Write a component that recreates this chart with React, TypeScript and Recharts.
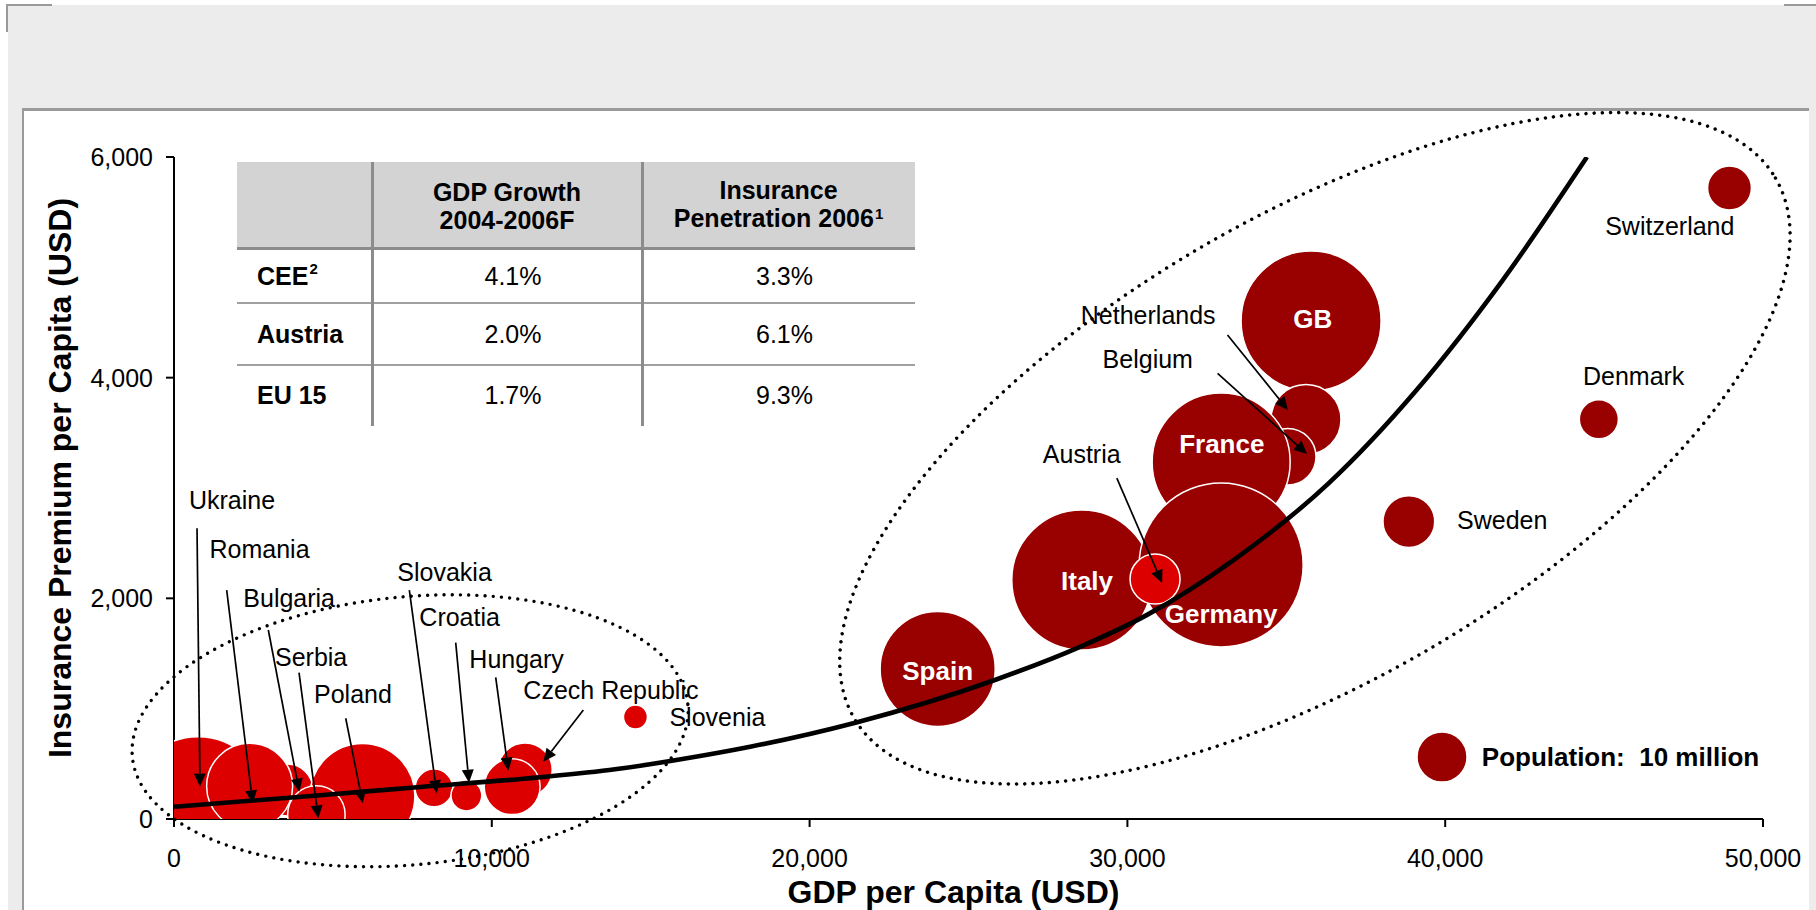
import React from 'react';
import {
  ComposedChart,
  Scatter,
  Line,
  XAxis,
  YAxis,
  ZAxis,
  ReferenceDot,
  ReferenceLine,
  Label,
} from 'recharts';

const W = 1816;
const H = 910;
const FONT = '"Liberation Sans", Arial, Helvetica, sans-serif';
const DARK_RED = '#990000';
const BRIGHT_RED = '#dc0000';

// GDP per capita (USD), premium per capita (USD), population (million)
const ceeCountries = [
  { name: 'Ukraine', x: 760, y: 130, pop: 74 },
  { name: 'Bulgaria', x: 3560, y: 263, pop: 10.8 },
  { name: 'Romania', x: 2380, y: 296, pop: 29.6 },
  { name: 'Poland', x: 5930, y: 210, pop: 44 },
  { name: 'Serbia', x: 4480, y: 40, pop: 13.2 },
  { name: 'Slovakia', x: 8180, y: 281, pop: 5.7 },
  { name: 'Croatia', x: 9200, y: 213, pop: 3.8 },
  { name: 'Czech Republic', x: 11050, y: 444, pop: 11.7 },
  { name: 'Hungary', x: 10640, y: 293, pop: 12.5 },
  { name: 'Slovenia', x: 14520, y: 924, pop: 2.3 },
];

const euCountries = [
  { name: 'Spain', x: 24030, y: 1360, pop: 53 },
  { name: 'GB', x: 35780, y: 4513, pop: 78.4 },
  { name: 'Netherlands', x: 35620, y: 3620, pop: 19.6 },
  { name: 'Belgium', x: 35045, y: 3284, pop: 12.8 },
  { name: 'France', x: 32950, y: 3236, pop: 76.2 },
  { name: 'Italy', x: 28565, y: 2166, pop: 78.4 },
  { name: 'Germany', x: 32950, y: 2302, pop: 107.6 },
  { name: 'Sweden', x: 38856, y: 2696, pop: 10.7 },
  { name: 'Denmark', x: 44835, y: 3623, pop: 6.1 },
  { name: 'Switzerland', x: 48946, y: 5719, pop: 7.7 },
];

const austria = [{ name: 'Austria', x: 30870, y: 2175, pop: 10 }];

const legendBubble = [{ name: 'Population:  10 million', x: 39900, y: 562, pop: 10 }];

const trendLine = [
  { x: 0, y: 111 },
  { x: 4700, y: 218 },
  { x: 7850, y: 293 },
  { x: 11000, y: 365 },
  { x: 13700, y: 444 },
  { x: 16550, y: 571 },
  { x: 18130, y: 655 },
  { x: 21440, y: 873 },
  { x: 25830, y: 1260 },
  { x: 28510, y: 1560 },
  { x: 30620, y: 1850 },
  { x: 33340, y: 2347 },
  { x: 36330, y: 3042 },
  { x: 39100, y: 3888 },
  { x: 41800, y: 4880 },
  { x: 44460, y: 6000 },
];

const xTicks = [0, 10000, 20000, 30000, 40000, 50000];
const yTicks = [0, 2000, 4000, 6000];

// country names next to their bubbles (left edge, middle)
const countryLabels = [
  { text: 'Ukraine', x: 470, y: 2885 },
  { text: 'Romania', x: 1117, y: 2447 },
  { text: 'Bulgaria', x: 2181, y: 2000 },
  { text: 'Serbia', x: 3178, y: 1462 },
  { text: 'Poland', x: 4406, y: 1133 },
  { text: 'Slovakia', x: 7027, y: 2232 },
  { text: 'Croatia', x: 7720, y: 1833 },
  { text: 'Hungary', x: 9293, y: 1450 },
  { text: 'Czech Republic', x: 10993, y: 1169 },
  { text: 'Slovenia', x: 15590, y: 924 },
  { text: 'Netherlands', x: 28534, y: 4568 },
  { text: 'Belgium', x: 29220, y: 4166 },
  { text: 'Austria', x: 27338, y: 3308 },
  { text: 'Switzerland', x: 45034, y: 5374 },
  { text: 'Denmark', x: 44335, y: 4015 },
  { text: 'Sweden', x: 40373, y: 2710 },
];

// names written inside the big bubbles
const insideLabels = [
  { text: 'GB', x: 35830, y: 4532 },
  { text: 'France', x: 32970, y: 3399 },
  { text: 'Italy', x: 28730, y: 2157 },
  { text: 'Germany', x: 32950, y: 1858 },
  { text: 'Spain', x: 24030, y: 1341 },
];

const pointers = [
  { from: [724, 2636], to: [818, 294] },
  { from: [1658, 2075], to: [2476, 142] },
  { from: [2968, 1713], to: [3943, 247] },
  { from: [3934, 1326], to: [4542, 6] },
  { from: [5403, 913], to: [5938, 142] },
  { from: [7405, 2075], to: [8267, 233] },
  { from: [8864, 1598], to: [9283, 329] },
  { from: [10123, 1284], to: [10521, 438] },
  { from: [12881, 988], to: [11622, 519] },
  { from: [33150, 4386], to: [35052, 3707] },
  { from: [32838, 4039], to: [35654, 3308] },
  { from: [29667, 3090], to: [31092, 2139] },
];

// dotted rings around the two country groups (centre in data units, radii in px)
const groupRings = [
  { x: 7430, y: 800, rx: 279, ry: 134, angle: -5.4 },
  { x: 35900, y: 3360, rx: 534, ry: 231, angle: -30.4 },
];

// inset table
const tableHeaders = [
  ['GDP Growth', '2004-2006F'],
  ['Insurance', 'Penetration 2006'],
];
const headerNotes = ['', '1'];
const rowLabels = ['CEE', 'Austria', 'EU 15'];
const rowNotes = ['2', '', ''];
const gdpGrowth = ['4.1%', '2.0%', '1.7%'];
const penetration = ['3.3%', '6.1%', '9.3%'];

const fmt = (v: number) => v.toLocaleString('en-US');

const bubble = (color: string) => (p: any) => {
  const r = typeof p.size === 'number' ? Math.sqrt(p.size / Math.PI) : (p.width || 0) / 2;
  return <circle cx={p.cx} cy={p.cy} r={r} fill={color} stroke="#fff" strokeWidth={1.5} />;
};

const arrowShape = (p: any) => {
  const { x1, y1, x2, y2 } = p;
  const a = Math.atan2(y2 - y1, x2 - x1);
  const len = 13;
  const half = 6;
  const bx = x2 - len * Math.cos(a);
  const by = y2 - len * Math.sin(a);
  const pts = [
    [x2, y2],
    [bx - half * Math.sin(a), by + half * Math.cos(a)],
    [bx + half * Math.sin(a), by - half * Math.cos(a)],
  ]
    .map((q) => q.join(','))
    .join(' ');
  return (
    <g>
      <line x1={x1} y1={y1} x2={bx} y2={by} stroke="#000" strokeWidth={1.7} />
      <polygon points={pts} fill="#000" />
    </g>
  );
};

const ringShape = (ring: { rx: number; ry: number; angle: number }) => (p: any) => (
  <ellipse
    cx={p.cx}
    cy={p.cy}
    rx={ring.rx}
    ry={ring.ry}
    transform={`rotate(${ring.angle} ${p.cx} ${p.cy})`}
    fill="none"
    stroke="#000"
    strokeWidth={3.4}
    strokeDasharray="0 8.2"
    strokeLinecap="round"
  />
);

const textShape = (text: string, opts: { anchor: string; bold?: boolean; color: string; size: number }) => (p: any) => (
  <text
    x={p.cx}
    y={p.cy}
    dy="0.35em"
    textAnchor={opts.anchor}
    fill={opts.color}
    style={{ fontSize: opts.size, fontWeight: opts.bold ? 700 : 400, fontFamily: FONT, whiteSpace: 'pre' }}
  >
    {text}
  </text>
);

const XTitle = (props: any) => {
  const vb = props.viewBox || { x: 174, y: 819, width: 1589, height: 91 };
  return (
    <text
      x={vb.x + vb.width / 2 - 15}
      y={vb.y + 84}
      textAnchor="middle"
      fill="#000"
      style={{ fontSize: 32, fontWeight: 700, fontFamily: FONT }}
    >
      GDP per Capita (USD)
    </text>
  );
};

const YTitle = (props: any) => {
  const vb = props.viewBox || { x: 0, y: 157, width: 174, height: 662 };
  const cx = vb.x + 71;
  const cy = vb.y + vb.height / 2 - 10;
  return (
    <text
      x={cx}
      y={cy}
      transform={`rotate(-90 ${cx} ${cy})`}
      textAnchor="middle"
      fill="#000"
      style={{ fontSize: 32, fontWeight: 700, fontFamily: FONT }}
    >
      Insurance Premium per Capita (USD)
    </text>
  );
};

const colX = [237, 372, 642, 915];
const rowY = [162, 249, 303, 365, 426];
const GRID = '#8c8c8c';

const abs = (left: number, top: number, width: number, height: number, extra: any = {}) => ({
  position: 'absolute' as const,
  left,
  top,
  width,
  height,
  ...extra,
});

const cellText = (extra: any = {}) => ({
  display: 'flex',
  alignItems: 'center',
  fontSize: 25,
  color: '#000',
  whiteSpace: 'nowrap' as const,
  ...extra,
});

const Sup = ({ n }: { n: string }) =>
  n ? <span style={{ fontSize: 15, position: 'relative', top: -8, marginLeft: 1 }}>{n}</span> : null;

const InfoTable = () => (
  <div style={abs(0, 0, W, H, { fontFamily: FONT, pointerEvents: 'none' })}>
    <div style={abs(colX[0], rowY[0], colX[3] - colX[0], rowY[1] - rowY[0], { background: '#d3d3d3' })} />
    <div style={abs(colX[0], rowY[1] - 2, colX[3] - colX[0], 3, { background: GRID })} />
    <div style={abs(colX[0], rowY[2] - 1, colX[3] - colX[0], 2, { background: '#a0a0a0' })} />
    <div style={abs(colX[0], rowY[3] - 1, colX[3] - colX[0], 2, { background: '#a0a0a0' })} />
    <div style={abs(colX[1] - 1, rowY[0], 3, rowY[4] - rowY[0], { background: GRID })} />
    <div style={abs(colX[2] - 1, rowY[0], 3, rowY[4] - rowY[0], { background: GRID })} />
    {tableHeaders.map((lines, i) => (
      <div
        key={`h${i}`}
        style={abs(colX[i + 1], rowY[0], colX[i + 2] - colX[i + 1], rowY[1] - rowY[0], {
          ...cellText({ flexDirection: 'column', justifyContent: 'center', fontWeight: 700, lineHeight: '28px' }),
        })}
      >
        {lines.map((ln, j) => (
          <div key={j}>
            {ln}
            {j === lines.length - 1 ? <Sup n={headerNotes[i]} /> : null}
          </div>
        ))}
      </div>
    ))}
    {rowLabels.map((label, r) => (
      <React.Fragment key={`r${r}`}>
        <div style={abs(colX[0] + 20, rowY[r + 1], colX[1] - colX[0] - 20, rowY[r + 2] - rowY[r + 1], cellText({ fontWeight: 700 }))}>
          {label}
          <Sup n={rowNotes[r]} />
        </div>
        <div
          style={abs(colX[1], rowY[r + 1], colX[2] - colX[1], rowY[r + 2] - rowY[r + 1], cellText({ justifyContent: 'center', paddingLeft: 12, boxSizing: 'border-box' }))}
        >
          {gdpGrowth[r]}
        </div>
        <div
          style={abs(colX[2], rowY[r + 1], colX[3] - colX[2], rowY[r + 2] - rowY[r + 1], cellText({ justifyContent: 'center', paddingLeft: 12, boxSizing: 'border-box' }))}
        >
          {penetration[r]}
        </div>
      </React.Fragment>
    ))}
  </div>
);

export default function App() {
  return (
    <div style={abs(0, 0, W, H, { background: '#fff', overflow: 'hidden', fontFamily: FONT })}>
      <div style={abs(8, 5, W - 8, H - 5, { background: '#ececec' })} />
      <div style={abs(6, 4, 46, 2, { background: '#9a9a9a' })} />
      <div style={abs(6, 4, 2, 28, { background: '#9a9a9a' })} />
      <div style={abs(1784, 4, 32, 2, { background: '#9a9a9a' })} />
      <div
        style={abs(22, 108, 1787, 802, {
          background: '#fff',
          borderTop: '3px solid #9a9a9a',
          borderLeft: '2px solid #9a9a9a',
          boxSizing: 'border-box',
        })}
      />
      <div style={abs(0, 0, W, H)}>
        <ComposedChart width={W} height={H} margin={{ top: 157, right: 53, bottom: 0, left: 0 }}>
          <XAxis
            dataKey="x"
            type="number"
            domain={[0, 50000]}
            ticks={xTicks}
            interval={0}
            allowDataOverflow
            height={91}
            tickFormatter={fmt}
            tickSize={8}
            tickMargin={22}
            tick={{ fill: '#000', fontSize: 25 }}
            axisLine={{ stroke: '#000', strokeWidth: 2 }}
            tickLine={{ stroke: '#000', strokeWidth: 2 }}
          >
            <Label content={XTitle} />
          </XAxis>
          <YAxis
            dataKey="y"
            type="number"
            domain={[0, 6000]}
            ticks={yTicks}
            interval={0}
            allowDataOverflow
            width={174}
            tickFormatter={fmt}
            tickSize={8}
            tickMargin={13}
            tick={{ fill: '#000', fontSize: 25 }}
            axisLine={{ stroke: '#000', strokeWidth: 2 }}
            tickLine={{ stroke: '#000', strokeWidth: 2 }}
          >
            <Label content={YTitle} />
          </YAxis>
          <ZAxis dataKey="pop" type="number" domain={[0, 200]} range={[0, 39270]} />

          <Scatter data={ceeCountries} fill={BRIGHT_RED} shape={bubble(BRIGHT_RED)} isAnimationActive={false} />
          <Scatter data={euCountries} fill={DARK_RED} shape={bubble(DARK_RED)} isAnimationActive={false} />
          <Scatter data={austria} fill={BRIGHT_RED} shape={bubble(BRIGHT_RED)} isAnimationActive={false} />
          <Scatter data={legendBubble} fill={DARK_RED} shape={bubble(DARK_RED)} isAnimationActive={false} />

          {groupRings.map((ring, i) => (
            <ReferenceDot key={`ring${i}`} x={ring.x} y={ring.y} r={0} ifOverflow="visible" zIndex={650} shape={ringShape(ring)} />
          ))}

          <Line
            data={trendLine}
            dataKey="y"
            type="monotone"
            stroke="#000"
            strokeWidth={4.6}
            dot={false}
            activeDot={false}
            isAnimationActive={false}
            zIndex={700}
          />

          {pointers.map((a, i) => (
            <ReferenceLine
              key={`arr${i}`}
              segment={[
                { x: a.from[0], y: a.from[1] },
                { x: a.to[0], y: a.to[1] },
              ]}
              ifOverflow="visible"
              zIndex={800}
              shape={arrowShape}
            />
          ))}

          {countryLabels.map((l) => (
            <ReferenceDot
              key={`lab-${l.text}`}
              x={l.x}
              y={l.y}
              r={0}
              ifOverflow="visible"
              zIndex={900}
              shape={textShape(l.text, { anchor: 'start', color: '#000', size: 25 })}
            />
          ))}
          {insideLabels.map((l) => (
            <ReferenceDot
              key={`in-${l.text}`}
              x={l.x}
              y={l.y}
              r={0}
              ifOverflow="visible"
              zIndex={900}
              shape={textShape(l.text, { anchor: 'middle', bold: true, color: '#fff', size: 26 })}
            />
          ))}
          <ReferenceDot
            x={41152}
            y={559}
            r={0}
            ifOverflow="visible"
            zIndex={900}
            shape={textShape(legendBubble[0].name, { anchor: 'start', bold: true, color: '#000', size: 26 })}
          />
        </ComposedChart>
      </div>
      <InfoTable />
    </div>
  );
}
